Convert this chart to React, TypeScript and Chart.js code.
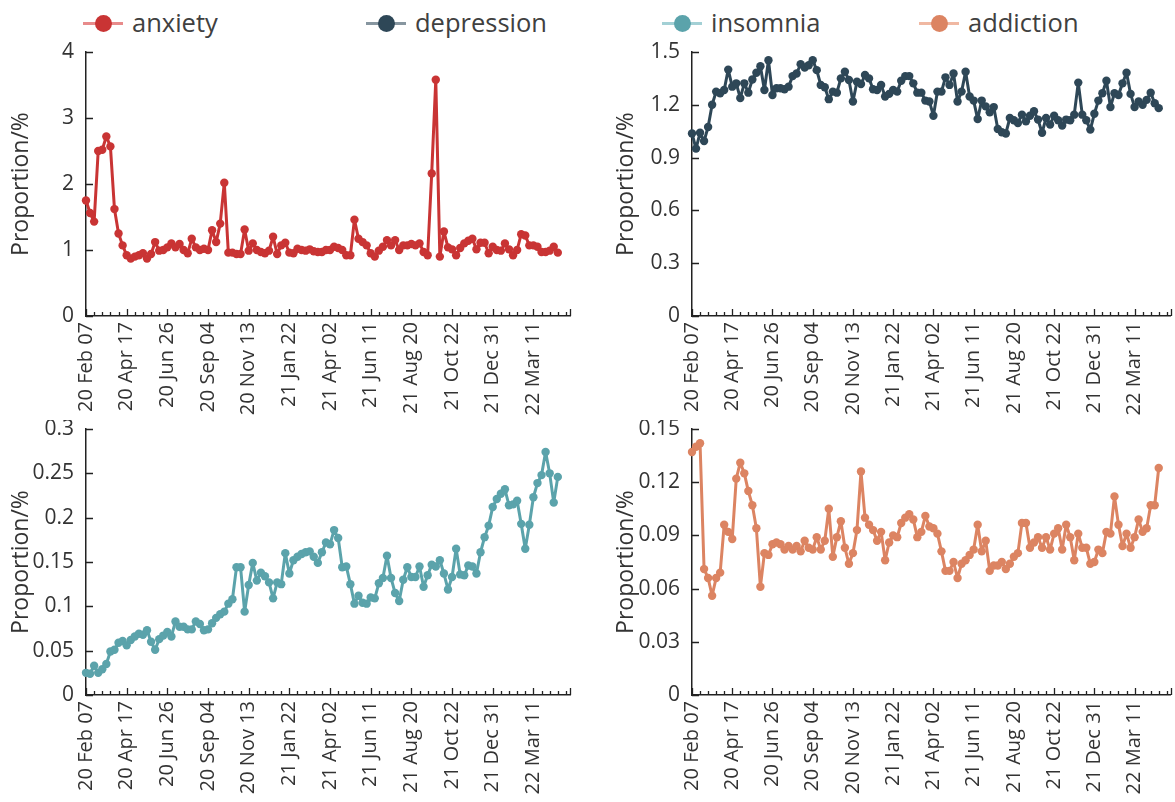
import React, { useEffect, useRef } from 'react';
import { Chart, registerables } from 'chart.js';

Chart.register(...registerables);

// ---------- data ----------
const xLabels = [
  '20 Feb 07', '20 Apr 17', '20 Jun 26', '20 Sep 04', '20 Nov 13', '21 Jan 22',
  '21 Apr 02', '21 Jun 11', '21 Aug 20', '21 Oct 22', '21 Dec 31', '22 Mar 11',
];

const anxiety = [
  1.75, 1.56, 1.43, 2.50, 2.52, 2.72, 2.57, 1.62, 1.25, 1.07,
  0.92, 0.87, 0.90, 0.92, 0.95, 0.87, 0.94, 1.12, 0.99, 1.00,
  1.04, 1.10, 1.04, 1.09, 1.00, 0.95, 1.17, 1.04, 1.00, 1.02,
  1.00, 1.30, 1.12, 1.40, 2.02, 0.96, 0.96, 0.94, 0.94, 1.31,
  0.99, 1.10, 1.00, 0.97, 0.95, 0.99, 1.20, 0.94, 1.07, 1.11,
  0.96, 0.95, 1.02, 1.00, 0.99, 1.01, 0.98, 0.97, 0.97, 1.00,
  1.00, 1.05, 1.03, 1.00, 0.92, 0.92, 1.46, 1.17, 1.12, 1.07,
  0.95, 0.90, 0.99, 1.05, 1.15, 1.07, 1.15, 1.00, 1.07, 1.07,
  1.09, 1.07, 1.10, 0.97, 0.92, 2.16, 3.58, 0.90, 1.28, 1.04,
  1.01, 0.92, 1.03, 1.10, 1.14, 1.17, 1.01, 1.11, 1.11, 0.95,
  1.05, 1.00, 0.99, 1.10, 1.01, 0.92, 1.00, 1.24, 1.22, 1.07,
  1.07, 1.05, 0.97, 0.97, 0.99, 1.05, 0.96,
];

const depression = [
  1.037, 0.951, 1.041, 0.994, 1.074, 1.200, 1.275, 1.266, 1.284, 1.400,
  1.303, 1.322, 1.238, 1.322, 1.269, 1.344, 1.382, 1.419, 1.284, 1.453,
  1.256, 1.294, 1.294, 1.288, 1.303, 1.363, 1.378, 1.431, 1.412, 1.425,
  1.453, 1.397, 1.313, 1.300, 1.232, 1.275, 1.269, 1.350, 1.388, 1.341,
  1.219, 1.331, 1.318, 1.369, 1.350, 1.288, 1.284, 1.313, 1.247, 1.262,
  1.284, 1.275, 1.337, 1.363, 1.363, 1.322, 1.269, 1.269, 1.224, 1.219,
  1.138, 1.275, 1.275, 1.356, 1.313, 1.378, 1.219, 1.275, 1.388, 1.247,
  1.224, 1.119, 1.224, 1.191, 1.157, 1.187, 1.063, 1.044, 1.037, 1.125,
  1.112, 1.097, 1.144, 1.106, 1.138, 1.163, 1.116, 1.041, 1.125, 1.088,
  1.138, 1.112, 1.082, 1.116, 1.112, 1.144, 1.326, 1.144, 1.112, 1.059,
  1.149, 1.224, 1.266, 1.337, 1.187, 1.266, 1.256, 1.322, 1.382, 1.262,
  1.187, 1.219, 1.200, 1.228, 1.269, 1.209, 1.181,
];

const insomnia = [
  0.025, 0.024, 0.033, 0.025, 0.029, 0.035, 0.049, 0.051, 0.059, 0.061,
  0.056, 0.062, 0.066, 0.069, 0.068, 0.073, 0.060, 0.051, 0.063, 0.067,
  0.071, 0.066, 0.083, 0.077, 0.077, 0.074, 0.074, 0.083, 0.080, 0.073,
  0.074, 0.081, 0.087, 0.091, 0.094, 0.103, 0.108, 0.144, 0.144, 0.094,
  0.124, 0.149, 0.129, 0.138, 0.134, 0.127, 0.109, 0.127, 0.125, 0.160,
  0.137, 0.152, 0.156, 0.159, 0.161, 0.162, 0.156, 0.149, 0.161, 0.172,
  0.170, 0.186, 0.177, 0.144, 0.145, 0.125, 0.103, 0.112, 0.104, 0.103,
  0.110, 0.109, 0.126, 0.132, 0.157, 0.132, 0.115, 0.106, 0.130, 0.144,
  0.133, 0.133, 0.145, 0.122, 0.135, 0.147, 0.145, 0.152, 0.137, 0.119,
  0.133, 0.165, 0.136, 0.135, 0.146, 0.145, 0.137, 0.161, 0.178, 0.191,
  0.212, 0.221, 0.227, 0.232, 0.214, 0.215, 0.219, 0.193, 0.165, 0.192,
  0.223, 0.239, 0.248, 0.274, 0.250, 0.217, 0.246,
];

const addiction = [
  0.137, 0.140, 0.142, 0.071, 0.066, 0.056, 0.066, 0.069, 0.096, 0.092,
  0.088, 0.122, 0.131, 0.125, 0.115, 0.107, 0.094, 0.061, 0.080, 0.079,
  0.085, 0.086, 0.085, 0.082, 0.084, 0.082, 0.084, 0.081, 0.087, 0.083,
  0.082, 0.089, 0.082, 0.087, 0.105, 0.078, 0.089, 0.098, 0.083, 0.074,
  0.080, 0.093, 0.126, 0.100, 0.096, 0.093, 0.087, 0.092, 0.076, 0.086,
  0.090, 0.089, 0.097, 0.100, 0.102, 0.099, 0.089, 0.092, 0.101, 0.095,
  0.094, 0.091, 0.081, 0.070, 0.070, 0.075, 0.066, 0.074, 0.076, 0.079,
  0.082, 0.096, 0.081, 0.087, 0.070, 0.073, 0.073, 0.075, 0.071, 0.074,
  0.078, 0.080, 0.097, 0.097, 0.083, 0.086, 0.089, 0.083, 0.089, 0.082,
  0.091, 0.094, 0.082, 0.096, 0.089, 0.076, 0.091, 0.083, 0.083, 0.074,
  0.075, 0.082, 0.080, 0.092, 0.091, 0.112, 0.096, 0.084, 0.091, 0.083,
  0.089, 0.099, 0.092, 0.094, 0.107, 0.107, 0.128,
];

const anxietyTicks = [0, 1, 2, 3, 4];
const anxietyTickLabels = ['0', '1', '2', '3', '4'];
const depressionTicks = [0, 0.3, 0.6, 0.9, 1.2, 1.5];
const depressionTickLabels = ['0', '0.3', '0.6', '0.9', '1.2', '1.5'];
const insomniaTicks = [0, 0.05, 0.1, 0.15, 0.2, 0.25, 0.3];
const insomniaTickLabels = ['0', '0.05', '0.1', '0.15', '0.2', '0.25', '0.3'];
const addictionTicks = [0, 0.03, 0.06, 0.09, 0.12, 0.15];
const addictionTickLabels = ['0', '0.03', '0.06', '0.09', '0.12', '0.15'];

const xMax = 119;
const xMinorStep = 2;
const xMajorStep = 10;

// ---------- styling ----------
const FONT = "'Open Sans', 'Noto Sans', sans-serif";
const TEXT = '#333333';
const AXIS = '#222222';

const COLORS = {
  anxiety: { main: '#c93434', light: '#e88b8b' },
  depression: { main: '#2e4757', light: '#8796a0' },
  insomnia: { main: '#5ba3ab', light: '#a3d0d5' },
  addiction: { main: '#dc8462', light: '#f0b8a2' },
};

const tickMarks = {
  id: 'tickMarks',
  afterDraw(chart: any) {
    const { ctx } = chart;
    const xs = chart.scales.x;
    const ys = chart.scales.y;
    const bottom = chart.chartArea.bottom;
    const left = chart.chartArea.left;
    ctx.save();
    ctx.strokeStyle = AXIS;
    ctx.lineWidth = 1.3;
    ctx.beginPath();
    const marks: Array<[number, number]> = [];
    for (let v = 0; v <= xMax; v += xMinorStep) marks.push([v, v % xMajorStep === 0 ? 7 : 4]);
    marks.push([xMax, 7]);
    marks.forEach(([v, len]) => {
      const px = Math.round(xs.getPixelForValue(v)) + 0.5;
      ctx.moveTo(px, bottom);
      ctx.lineTo(px, bottom - len);
    });
    ys.ticks.forEach((t: any) => {
      const py = Math.round(ys.getPixelForValue(t.value)) + 0.5;
      ctx.moveTo(left, py);
      ctx.lineTo(left + 7, py);
    });
    ctx.stroke();
    ctx.restore();
  },
};

type PanelCfg = {
  values: number[];
  color: { main: string; light: string };
  yTicks: number[];
  yLabels: string[];
  left: number;
  top: number;
  w: number;
  h: number;
  padLeft: number;
  padTop: number;
  padRight: number;
  yWidth: number;
  xHeight: number;
};

function Panel({ cfg }: { cfg: PanelCfg }) {
  const ref = useRef<HTMLCanvasElement>(null);
  useEffect(() => {
    const yMax = cfg.yTicks[cfg.yTicks.length - 1];
    const xTickValues: number[] = [];
    for (let v = 0; v <= xMax; v += xMinorStep) xTickValues.push(v);
    const chart = new Chart(ref.current as HTMLCanvasElement, {
      type: 'line',
      data: {
        datasets: [
          {
            data: cfg.values.map((v, i) => ({ x: i, y: v })),
            borderColor: cfg.color.main,
            backgroundColor: cfg.color.main,
            borderWidth: 3,
            borderJoinStyle: 'round',
            borderCapStyle: 'round',
            pointRadius: 4.2,
            pointHoverRadius: 4.2,
            pointBorderWidth: 0,
            pointBackgroundColor: cfg.color.main,
            tension: 0,
            clip: false as any,
          },
        ],
      },
      options: {
        responsive: false,
        animation: false,
        events: [],
        layout: { padding: { left: cfg.padLeft, top: cfg.padTop, right: cfg.padRight, bottom: 0 } },
        plugins: { legend: { display: false }, tooltip: { enabled: false } },
        scales: {
          x: {
            type: 'linear',
            min: 0,
            max: xMax,
            afterBuildTicks: (s: any) => {
              s.ticks = xTickValues.map((v) => ({ value: v }));
            },
            afterFit: (s: any) => {
              s.height = cfg.xHeight;
              s.paddingLeft = 0;
              s.paddingRight = 0;
              s.paddingTop = 0;
              s.paddingBottom = 0;
            },
            ticks: {
              autoSkip: false,
              minRotation: 90,
              maxRotation: 90,
              padding: 6,
              color: TEXT,
              font: { family: FONT, size: 20 },
              callback: (v: any) => {
                const n = Number(v);
                if (n % xMajorStep !== 0) return '';
                const lab = xLabels[n / xMajorStep];
                return lab === undefined ? '' : lab;
              },
            },
            grid: { display: false, drawTicks: false },
            border: { display: true, color: AXIS, width: 1.5 },
          },
          y: {
            type: 'linear',
            min: 0,
            max: yMax,
            afterBuildTicks: (s: any) => {
              s.ticks = cfg.yTicks.map((v) => ({ value: v }));
            },
            afterFit: (s: any) => {
              s.width = cfg.yWidth;
              s.paddingTop = 0;
              s.paddingBottom = 0;
              s.paddingLeft = 0;
              s.paddingRight = 0;
            },
            ticks: {
              padding: 12,
              color: TEXT,
              font: { family: FONT, size: 21 },
              callback: (_v: any, idx: number) => cfg.yLabels[idx],
            },
            title: {
              display: true,
              text: 'Proportion/%',
              color: TEXT,
              font: { family: FONT, size: 23 },
              padding: { top: 2, bottom: 2 },
            },
            grid: { display: false, drawTicks: false },
            border: { display: true, color: AXIS, width: 1.5 },
          },
        },
      } as any,
      plugins: [tickMarks],
    });
    return () => chart.destroy();
  }, []);
  return (
    <canvas
      ref={ref}
      width={cfg.w}
      height={cfg.h}
      style={{ position: 'absolute', left: cfg.left, top: cfg.top, width: cfg.w, height: cfg.h }}
    />
  );
}

const legendItems = [
  { label: 'anxiety', color: COLORS.anxiety, x: 83 },
  { label: 'depression', color: COLORS.depression, x: 366 },
  { label: 'insomnia', color: COLORS.insomnia, x: 662 },
  { label: 'addiction', color: COLORS.addiction, x: 919 },
];

export default function App() {
  const panels: PanelCfg[] = [
    {
      values: anxiety, color: COLORS.anxiety, yTicks: anxietyTicks, yLabels: anxietyTickLabels,
      left: 0, top: 40, w: 590, h: 400, padLeft: 6, padTop: 12, padRight: 20, yWidth: 80, xHeight: 124,
    },
    {
      values: depression, color: COLORS.depression, yTicks: depressionTicks, yLabels: depressionTickLabels,
      left: 600, top: 40, w: 575, h: 400, padLeft: 11, padTop: 12, padRight: 2, yWidth: 81, xHeight: 124,
    },
    {
      values: insomnia, color: COLORS.insomnia, yTicks: insomniaTicks, yLabels: insomniaTickLabels,
      left: 0, top: 420, w: 590, h: 382, padLeft: 6, padTop: 9, padRight: 20, yWidth: 80, xHeight: 107,
    },
    {
      values: addiction, color: COLORS.addiction, yTicks: addictionTicks, yLabels: addictionTickLabels,
      left: 600, top: 420, w: 575, h: 382, padLeft: 11, padTop: 9, padRight: 2, yWidth: 81, xHeight: 107,
    },
  ];
  return (
    <div style={{ position: 'absolute', left: 0, top: 0, width: 1175, height: 802, background: '#fff', overflow: 'hidden' }}>
      {legendItems.map((it) => (
        <div
          key={it.label}
          style={{ position: 'absolute', left: it.x, top: 2, height: 42, display: 'flex', alignItems: 'center' }}
        >
          <div style={{ position: 'relative', width: 40, height: 17 }}>
            <div style={{ position: 'absolute', left: 0, top: 7, width: 40, height: 3, background: it.color.light }} />
            <div
              style={{
                position: 'absolute', left: 12, top: 0, width: 17, height: 17,
                borderRadius: '50%', background: it.color.main,
              }}
            />
          </div>
          <span style={{ marginLeft: 9, fontFamily: FONT, fontSize: 25.5, color: '#404040', lineHeight: 1 }}>
            {it.label}
          </span>
        </div>
      ))}
      {panels.map((p, i) => (
        <Panel key={i} cfg={p} />
      ))}
    </div>
  );
}
